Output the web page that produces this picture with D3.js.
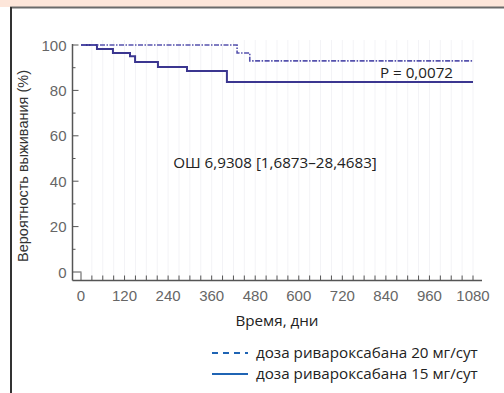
<!DOCTYPE html>
<html>
<head>
<meta charset="utf-8">
<script src="https://cdn.jsdelivr.net/npm/d3@7/dist/d3.min.js"></script>
<style>
  body { margin: 0; background: #fff; }
  svg { display: block; }
</style>
</head>
<body>
<svg width="504" height="393"></svg>
<script>
// survival curves (days, %)
const days15 = [0, 44, 88, 135, 149, 212, 292, 402, 1080];
const surv15 = [100, 98.2, 96.5, 95, 92.5, 90.3, 88.5, 83.7, 83.7];
const days20 = [0, 430, 465, 1080];
const surv20 = [100, 96.5, 93, 93];

const xTickLabels = [0, 120, 240, 360, 480, 600, 720, 840, 960, 1080];
const yTickLabels = [0, 20, 40, 60, 80, 100];
const legendLabels = ['доза ривароксабана 20 мг/сут', 'доза ривароксабана 15 мг/сут'];

const CURVE_COLOR = '#3b3690';
const CURVE20_COLOR = '#5552ad';
const LEGEND_COLOR = '#1f64b4';
const AXIS_COLOR = '#555';
const TEXT_FONT = '"Open Sans", sans-serif';
const TICK_FONT = '"Liberation Sans", Arial, sans-serif';

var svg = d3.select('svg');

/* frame bits */
svg.append('rect').attr('x', 0).attr('y', 0).attr('width', 504).attr('height', 7).attr('fill', '#fde6da');
svg.append('line').attr('x1', 10).attr('x2', 504).attr('y1', 7.5).attr('y2', 7.5)
    .attr('stroke', '#6a6a6a').attr('stroke-width', 2);
svg.append('line').attr('x1', 11).attr('x2', 11).attr('y1', 7).attr('y2', 393)
    .attr('stroke', '#333').attr('stroke-width', 2);

var x = d3.scaleLinear().domain([0, 1080]).range([81, 473]);
var y = d3.scaleLinear().domain([0, 100]).range([272, 45]);
const axisY = 280.5;
const axisX = 72.5;

/* faint vertical grid */
svg.append('g')
    .selectAll('line')
    .data(d3.range(30, 1081, 30))
    .join('line')
    .attr('x1', d => x(d)).attr('x2', d => x(d))
    .attr('y1', 40).attr('y2', axisY)
    .attr('stroke', '#f3f3f6').attr('stroke-width', 1);

/* X axis */
var gx = svg.append('g').attr('transform', 'translate(0,' + axisY + ')');
gx.append('line').attr('x1', axisX).attr('x2', 482).attr('stroke', AXIS_COLOR).attr('stroke-width', 1.5);
gx.selectAll('.tk').data(d3.range(0, 1081, 30)).join('line')
    .attr('class', 'tk')
    .attr('x1', d => x(d)).attr('x2', d => x(d))
    .attr('y1', 0).attr('y2', d => d === 0 ? -8 : -5)
    .attr('stroke', AXIS_COLOR).attr('stroke-width', 1);
gx.selectAll('text').data(xTickLabels).join('text')
    .attr('x', d => x(d)).attr('y', 20)
    .attr('text-anchor', 'middle')
    .attr('font-family', TICK_FONT).attr('font-size', 15).attr('fill', '#666')
    .text(d => d);

/* Y axis */
var gy = svg.append('g').attr('transform', 'translate(' + axisX + ',0)');
gy.append('line').attr('y1', y(100) - 1).attr('y2', axisY).attr('stroke', AXIS_COLOR).attr('stroke-width', 1.5);
gy.selectAll('.tk').data(d3.range(0, 101, 10)).join('line')
    .attr('class', 'tk')
    .attr('x1', 0).attr('x2', d => d % 20 === 0 ? (d === 0 ? 9 : 6) : 3)
    .attr('y1', d => y(d)).attr('y2', d => y(d))
    .attr('stroke', AXIS_COLOR).attr('stroke-width', 1);
gy.selectAll('text').data(yTickLabels).join('text')
    .attr('x', -6).attr('y', d => y(d) + 5.5)
    .attr('text-anchor', 'end')
    .attr('font-family', TICK_FONT).attr('font-size', 15).attr('fill', '#666')
    .text(d => d);

svg.append('text')
    .attr('transform', 'translate(28,166) rotate(-90)')
    .attr('text-anchor', 'middle')
    .attr('font-family', TICK_FONT).attr('font-size', 14.5).attr('fill', '#333')
    .text('Вероятность выживания (%)');

/* curves */
var line = d3.line().curve(d3.curveStepAfter).x(d => x(d[0])).y(d => y(d[1]));

svg.append('path')
    .datum(days15.map((d, i) => [d, surv15[i]]))
    .attr('fill', 'none')
    .attr('stroke', CURVE_COLOR)
    .attr('stroke-width', 2)
    .attr('d', line);

svg.append('path')
    .datum(days20.map((d, i) => [d, surv20[i]]))
    .attr('fill', 'none')
    .attr('stroke', CURVE20_COLOR)
    .attr('stroke-width', 1.6)
    .attr('stroke-dasharray', '5,1.5,1.5,1.5')
    .attr('d', line);

/* annotations */
svg.append('text')
    .attr('x', 453).attr('y', 78)
    .attr('text-anchor', 'end')
    .attr('font-family', TEXT_FONT).attr('font-size', 15.2).attr('fill', '#222')
    .text('P = 0,0072');

svg.append('text')
    .attr('x', 275).attr('y', 168)
    .attr('text-anchor', 'middle')
    .attr('font-family', TEXT_FONT).attr('font-size', 15.2).attr('fill', '#222')
    .text('ОШ 6,9308 [1,6873–28,4683]');

svg.append('text')
    .attr('x', 277).attr('y', 326)
    .attr('text-anchor', 'middle')
    .attr('font-family', TEXT_FONT).attr('font-size', 15.2).attr('fill', '#222')
    .text('Время, дни');

/* legend */
var lg = svg.append('g');
lg.selectAll('line').data(legendLabels).join('line')
    .attr('x1', 212).attr('x2', 248)
    .attr('y1', (d, i) => 353 + i * 21).attr('y2', (d, i) => 353 + i * 21)
    .attr('stroke', LEGEND_COLOR).attr('stroke-width', 2.2)
    .attr('stroke-dasharray', (d, i) => i === 0 ? '6,5' : null);
lg.selectAll('text').data(legendLabels).join('text')
    .attr('x', 256).attr('y', (d, i) => 358 + i * 21)
    .attr('font-family', TEXT_FONT).attr('font-size', 15.2).attr('fill', '#222')
    .text(d => d);
</script>
</body>
</html>
